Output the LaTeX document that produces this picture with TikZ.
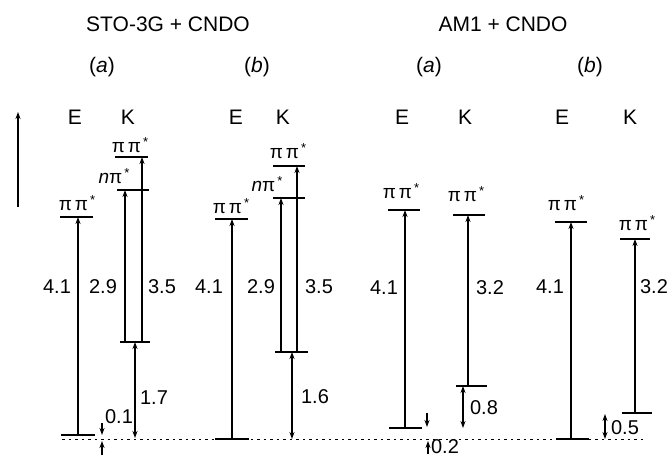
\documentclass[tikz,border=0pt]{standalone}
\usepackage{fontspec}
\setmainfont{Liberation Sans}
\usetikzlibrary{arrows.meta}
\newcommand\ppst{π\kern3ptπ\kern2pt\raisebox{0.6ex}{\fontsize{13}{13}\selectfont *}}
\newcommand\npst{{\itshape n}π\kern2pt\raisebox{0.6ex}{\fontsize{13}{13}\selectfont *}}
\begin{document}
\begin{tikzpicture}[x=1pt,y=-1pt,
  lvl/.style={line width=1.6pt},
  tr/.style={line width=1.1pt,-{Stealth[length=7pt,width=5pt]}},
  dbl/.style={line width=1.1pt,{Stealth[length=7pt,width=5pt]}-{Stealth[length=7pt,width=5pt]}},
  num/.style={font=\fontsize{20}{20}\selectfont, inner sep=0pt},
  stl/.style={font=\fontsize{19}{19}\selectfont, inner sep=0pt},
  hd/.style={font=\fontsize{21}{21}\selectfont, inner sep=0pt},
  ]
\useasboundingbox (0,0) rectangle (672,457);
% headings
\node[hd] (t1) at (168,24) {STO-3G + CNDO};
\node[hd] (t2) at (503,24) {AM1 + CNDO};
\node[hd] (a1) at (102,67) {(\textit{a})};
\node[hd] (b1) at (257,67) {(\textit{b})};
\node[hd] (a2) at (429,67) {(\textit{a})};
\node[hd] (b2) at (590,67) {(\textit{b})};
\foreach \x/\l [count=\i] in {75/E,128/K,236/E,283/K,402/E,465/K,562/E,630/K}
  \node[hd] (ek\i) at (\x,117) {\l};
% energy axis
\coordinate (ax0) at (18,207);
\coordinate (ax1) at (18,112);
\draw[tr] (ax0) -- (ax1);
% reference dashed line
\coordinate (r0) at (62,439);
\coordinate (r1) at (645,439);
\draw[line width=0.8pt,dash pattern=on 2.5pt off 4pt] (r0) -- (r1);

% ===== column 1 : STO-3G (a)
\draw[lvl] (61,435) -- (95,435);
\draw[lvl] (60,217) -- (93,217);
\draw[lvl] (120,342) -- (150,342);
\draw[lvl] (117,190) -- (149,190);
\draw[lvl] (115,157) -- (148,157);
\coordinate (e1g) at (78,435); \coordinate (e1t) at (78,217);
\coordinate (k1ga) at (125,342); \coordinate (k1n) at (125,190);
\coordinate (k1gb) at (142,342); \coordinate (k1p) at (142,157);
\coordinate (k1gc) at (135,342); \coordinate (k1r) at (135,438);
\draw[tr] (e1g) -- (e1t);
\draw[tr] (k1ga) -- (k1n);
\draw[tr] (k1gb) -- (k1p);
\draw[dbl] (k1gc) -- (k1r);
\coordinate (d1a) at (102,423); \coordinate (d1b) at (102,435);
\coordinate (d1c) at (102,455); \coordinate (d1d) at (102,441);
\draw[tr] (d1a) -- (d1b);
\draw[tr] (d1c) -- (d1d);
\node[stl] (l1e) at (77,203) {\ppst};
\node[stl] (l1n) at (114,176) {\npst};
\node[stl] (l1p) at (130,145) {\ppst};
\node[num] (n1a) at (57,287) {4.1};
\node[num] (n1b) at (103,287) {2.9};
\node[num] (n1c) at (162,287) {3.5};
\node[num] (n1d) at (154,398) {1.7};
\node[num] (n1e) at (119,417) {0.1};

% ===== column 2 : STO-3G (b)
\draw[lvl] (215,439) -- (249,439);
\draw[lvl] (215,219) -- (248,219);
\draw[lvl] (275,352) -- (308,352);
\draw[lvl] (273,198) -- (305,198);
\draw[lvl] (273,166) -- (305,166);
\coordinate (e2g) at (232,439); \coordinate (e2t) at (232,219);
\coordinate (k2ga) at (281,352); \coordinate (k2n) at (281,198);
\coordinate (k2gb) at (297,352); \coordinate (k2p) at (297,166);
\coordinate (k2gc) at (292,352); \coordinate (k2r) at (292,439);
\draw[tr] (e2g) -- (e2t);
\draw[tr] (k2ga) -- (k2n);
\draw[tr] (k2gb) -- (k2p);
\draw[dbl] (k2gc) -- (k2r);
\node[stl] (l2e) at (231,206) {\ppst};
\node[stl] (l2n) at (267,184) {\npst};
\node[stl] (l2p) at (288,151) {\ppst};
\node[num] (n2a) at (209,287) {4.1};
\node[num] (n2b) at (261,287) {2.9};
\node[num] (n2c) at (319,287) {3.5};
\node[num] (n2d) at (315,397) {1.6};

% ===== column 3 : AM1 (a)
\draw[lvl] (389,428) -- (422,428);
\draw[lvl] (388,210) -- (420,210);
\draw[lvl] (456,386) -- (487,386);
\draw[lvl] (453,215) -- (485,215);
\coordinate (e3g) at (405,428); \coordinate (e3t) at (405,210);
\coordinate (k3g) at (468,386); \coordinate (k3t) at (468,215);
\coordinate (k3gc) at (463,386); \coordinate (k3r) at (463,428);
\draw[tr] (e3g) -- (e3t);
\draw[tr] (k3g) -- (k3t);
\draw[dbl] (k3gc) -- (k3r);
\coordinate (d3a) at (427,413); \coordinate (d3b) at (427,427);
\coordinate (d3c) at (428,454); \coordinate (d3d) at (428,441);
\draw[tr] (d3a) -- (d3b);
\draw[tr] (d3c) -- (d3d);
\node[stl] (l3e) at (401,191) {\ppst};
\node[stl] (l3k) at (466,194) {\ppst};
\node[num] (n3a) at (384,288) {4.1};
\node[num] (n3b) at (490,288) {3.2};
\node[num] (n3c) at (484,408) {0.8};
\node[num] (n3d) at (445,447) {0.2};

% ===== column 4 : AM1 (b)
\draw[lvl] (556,439) -- (589,439);
\draw[lvl] (555,222) -- (587,222);
\draw[lvl] (622,413) -- (652,413);
\draw[lvl] (620,239) -- (650,239);
\coordinate (e4g) at (571,439); \coordinate (e4t) at (571,222);
\coordinate (k4g) at (635,413); \coordinate (k4t) at (635,239);
\coordinate (k4gc) at (605,414); \coordinate (k4r) at (605,439);
\draw[tr] (e4g) -- (e4t);
\draw[tr] (k4g) -- (k4t);
\draw[dbl] (k4gc) -- (k4r);
\node[stl] (l4e) at (566,203) {\ppst};
\node[stl] (l4k) at (637,223) {\ppst};
\node[num] (n4a) at (550,287) {4.1};
\node[num] (n4b) at (654,287) {3.2};
\node[num] (n4c) at (625,428) {0.5};
\end{tikzpicture}
\end{document}
